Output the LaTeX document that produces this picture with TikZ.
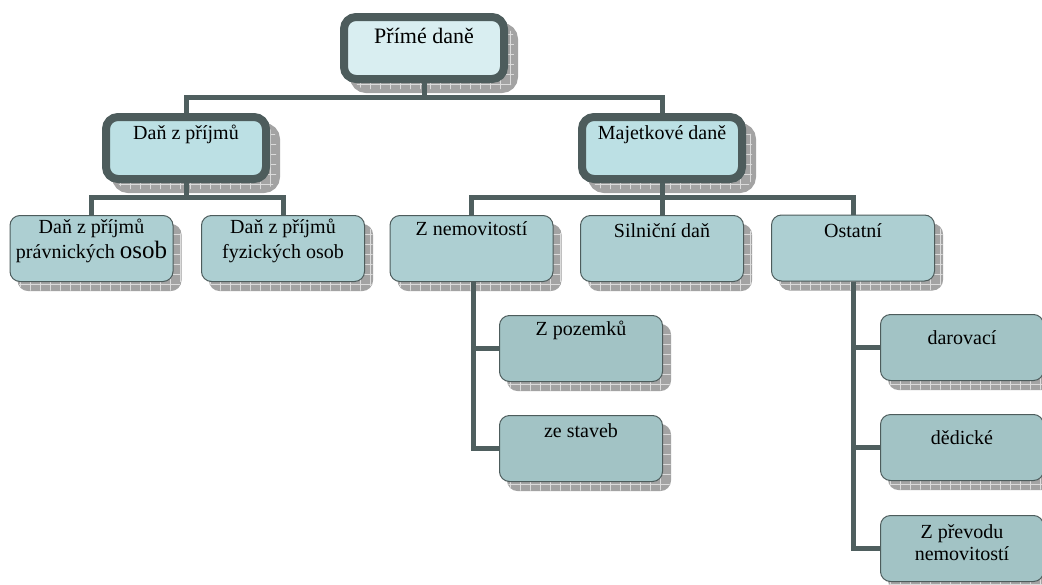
\documentclass[tikz,border=0pt]{standalone}
\usepackage{fontspec}
\setmainfont{Liberation Serif}
\usetikzlibrary{shadows,patterns.meta}
\definecolor{edgec}{HTML}{4D5C5C}
\definecolor{connc}{HTML}{4F5F5F}
\definecolor{fillA}{HTML}{D9EEF1}
\definecolor{fillB}{HTML}{BCE0E4}
\definecolor{fillC}{HTML}{ADCFD2}
\definecolor{fillD}{HTML}{A2C3C5}
\tikzset{
  shad/.style n args={3}{
    general shadow={shadow xshift=#1pt, shadow yshift=-#2pt, fill=black!36, draw=black!36, line width=#3pt},
    general shadow={shadow xshift=#1pt, shadow yshift=-#2pt, pattern={Hatch[angle=0,distance=10pt,line width=0.8pt]}, pattern color=black!14}},
  thickbox/.style={draw=edgec, line width=8pt, rounded corners=12pt, minimum width=160pt, minimum height=62pt, inner sep=0pt, shad={10}{10}{8}},
  thinbox/.style={draw=edgec, line width=1pt, rounded corners=10pt, minimum width=163pt, minimum height=66pt, inner sep=0pt, shad={8}{9}{1}},
  lbl/.style={inner sep=0pt, font=\fontsize{20}{25}\selectfont, align=center, anchor=base},
  conn/.style={draw=connc, line width=5pt},
}
\begin{document}
\begin{tikzpicture}[x=1pt,y=-1pt]
\useasboundingbox (0,0) rectangle (1042,584);
\clip (0,0) rectangle (1042,584);
% boxes
\node[thickbox, fill=fillA] (top) at (424,48) {};
\node[thickbox, fill=fillB] (dzp) at (186,148) {};
\node[thickbox, fill=fillB] (mdz) at (662,148) {};
\node[thinbox, fill=fillC] (c1) at (91.5,248.5) {};
\node[thinbox, fill=fillC] (c2) at (283,248.5) {};
\node[thinbox, fill=fillC] (zn) at (471.5,248.5) {};
\node[thinbox, fill=fillC] (sil) at (662,248.5) {};
\node[thinbox, fill=fillC] (ost) at (853,248) {};
\node[thinbox, fill=fillD] (zp) at (581,348.5) {};
\node[thinbox, fill=fillD] (zs) at (581,448.5) {};
\node[thinbox, fill=fillD] (dar) at (962,347.5) {};
\node[thinbox, fill=fillD] (ded) at (962,447.5) {};
\node[thinbox, fill=fillD] (prev) at (962,548.5) {};
% connectors
\coordinate (bA) at (424,97);
\coordinate (bB) at (186,197);
\coordinate (bC) at (662,197);
\draw[conn] (top.south) -- (bA);
\draw[conn] (dzp.north) |- (bA) -| (mdz.north);
\draw[conn] (dzp.south) -- (bB);
\draw[conn] (c1.north) |- (bB) -| (c2.north);
\draw[conn] (mdz.south) -- (bC);
\draw[conn] (zn.north) |- (bC) -| (ost.north);
\draw[conn] (bC) -- (sil.north);
\draw[conn] ([xshift=1.5pt]zn.south) |- (zp.west);
\draw[conn] ([xshift=1.5pt]zn.south) |- (zs.west);
\draw[conn] (ost.south) |- (dar.west);
\draw[conn] (ost.south) |- (ded.west);
\draw[conn] (ost.south) |- (prev.west);
% labels
\node[lbl, font=\fontsize{22}{26}\selectfont] (ttop) at (424,43) {Přímé daně};
\node[lbl] (tdzp) at (186,139) {Daň z příjmů};
\node[lbl] (tmdz) at (662,139) {Majetkové daně};
\node[lbl] (tc1) at (91.5,258) {Daň z příjmů\\právnických {\fontsize{25}{25}\selectfont osob}};
\node[lbl] (tc2) at (283,258) {Daň z příjmů\\fyzických osob};
\node[lbl] (tzn) at (471.5,235) {Z nemovitostí};
\node[lbl] (tsil) at (662,237) {Silniční daň};
\node[lbl] (tost) at (853,237) {Ostatní};
\node[lbl] (tzp) at (581,335) {Z pozemků};
\node[lbl] (tzs) at (581,437) {ze staveb};
\node[lbl] (tdar) at (962,344) {darovací};
\node[lbl] (tded) at (962,444) {dědické};
\node[lbl, font=\fontsize{20}{22}\selectfont] (tprev) at (962,560) {Z převodu\\nemovitostí};
\end{tikzpicture}
\end{document}
